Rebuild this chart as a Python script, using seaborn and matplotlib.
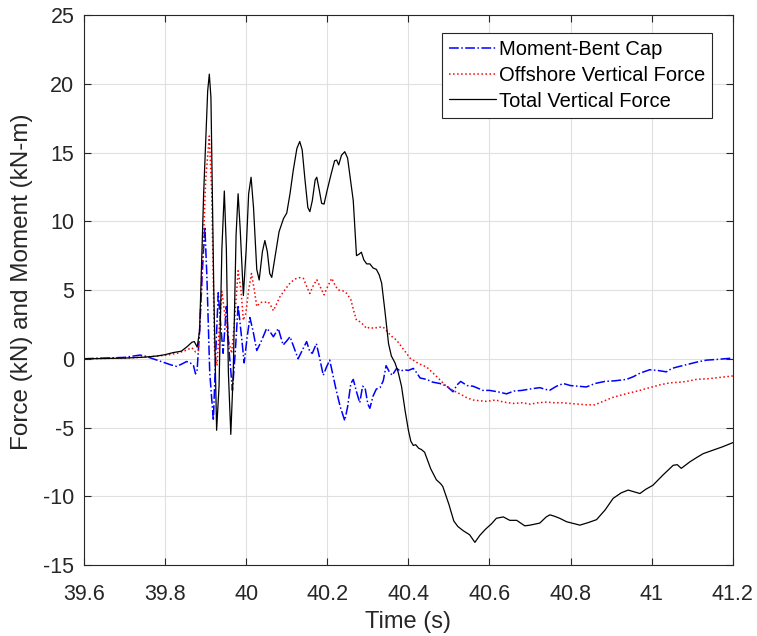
import numpy as np
import pandas as pd
import matplotlib
matplotlib.use("Agg")
import matplotlib.pyplot as plt
import seaborn as sns

# ---- data ----
t_total = [39.60, 39.65, 39.70, 39.75, 39.78, 39.80, 39.82, 39.84, 39.855, 39.866, 39.872, 39.879,
           39.885, 39.895, 39.905, 39.909, 39.913, 39.920, 39.927, 39.933, 39.940, 39.946, 39.951,
           39.956, 39.962, 39.968, 39.975, 39.980, 39.985, 39.993, 40.000, 40.006, 40.012, 40.018,
           40.026, 40.032, 40.040, 40.046, 40.052, 40.058, 40.063, 40.070, 40.081, 40.092, 40.100,
           40.108, 40.116, 40.125, 40.132, 40.138, 40.145, 40.152, 40.157, 40.163, 40.170, 40.174,
           40.180, 40.186, 40.192, 40.200, 40.210, 40.218, 40.223, 40.228, 40.235, 40.243, 40.250,
           40.258, 40.264, 40.268, 40.272, 40.278, 40.284, 40.290, 40.297, 40.305, 40.313, 40.321,
           40.328, 40.334, 40.342, 40.351, 40.358, 40.367, 40.375, 40.383, 40.392, 40.400, 40.406,
           40.412, 40.418, 40.425, 40.432, 40.440, 40.455, 40.469, 40.480, 40.485, 40.500, 40.512,
           40.522, 40.535, 40.551, 40.564, 40.570, 40.576, 40.590, 40.605, 40.617, 40.634, 40.650,
           40.667, 40.687, 40.700, 40.724, 40.740, 40.749, 40.760, 40.773, 40.790, 40.810, 40.823,
           40.845, 40.864, 40.885, 40.905, 40.925, 40.942, 40.960, 40.971, 40.985, 41.003, 41.028,
           41.053, 41.063, 41.073, 41.094, 41.110, 41.127, 41.151, 41.175, 41.200]
f_total = [0.0, 0.02, 0.05, 0.12, 0.2, 0.3, 0.45, 0.55, 0.9, 1.2, 1.25, 0.85,
           2.0, 12.0, 19.5, 20.7, 19.0, 5.0, -5.2, -2.0, 8.0, 12.2, 8.0,
           -1.0, -5.5, -1.0, 9.0, 12.0, 9.5, 4.6, 8.0, 12.0, 13.2, 11.0,
           6.5, 5.73, 7.8, 8.6, 7.8, 6.2, 5.92, 7.2, 9.24, 10.2, 10.6,
           12.0, 13.7, 15.3, 15.8, 15.2, 13.0, 11.0, 10.7, 11.5, 13.0, 13.2,
           12.3, 11.3, 11.25, 12.3, 13.5, 14.4, 14.45, 14.1, 14.8, 15.06, 14.6,
           12.8, 11.5, 9.5, 7.5, 7.6, 7.75, 7.2, 6.9, 6.9, 6.6, 6.5,
           6.1, 5.5, 3.5, 1.1, 0.2, -0.3, -1.0, -2.0, -3.8, -5.2, -6.0,
           -6.3, -6.25, -6.5, -6.6, -6.8, -8.0, -8.8, -9.1, -9.3, -10.6, -11.8,
           -12.2, -12.5, -12.8, -13.35, -13.1, -12.85, -12.4, -12.0, -11.6, -11.5, -11.75,
           -11.75, -12.15, -12.1, -11.95, -11.5, -11.35, -11.45, -11.6, -11.85, -12.0, -12.1,
           -11.9, -11.7, -11.0, -10.15, -9.75, -9.55, -9.7, -9.8, -9.5, -9.2, -8.45,
           -7.75, -7.7, -7.97, -7.5, -7.2, -6.9, -6.65, -6.4, -6.1]

t_offshore = [39.60, 39.70, 39.75, 39.80, 39.83, 39.85, 39.866, 39.875, 39.882, 39.890, 39.900,
              39.909, 39.915, 39.922, 39.928, 39.934, 39.940, 39.946, 39.955, 39.964, 39.972,
              39.980, 39.987, 39.993, 39.999, 40.006, 40.013, 40.020, 40.026, 40.035, 40.045,
              40.054, 40.060, 40.067, 40.075, 40.083, 40.095, 40.108, 40.120, 40.132, 40.141,
              40.150, 40.157, 40.165, 40.174, 40.183, 40.192, 40.200, 40.211, 40.220, 40.227,
              40.238, 40.248, 40.258, 40.265, 40.272, 40.280, 40.288, 40.297, 40.305, 40.315,
              40.325, 40.338, 40.350, 40.360, 40.371, 40.385, 40.404, 40.425, 40.445, 40.470,
              40.490, 40.510, 40.530, 40.545, 40.560, 40.575, 40.593, 40.615, 40.635, 40.659,
              40.680, 40.700, 40.720, 40.741, 40.760, 40.780, 40.798, 40.820, 40.840, 40.860,
              40.880, 40.905, 40.930, 40.950, 40.971, 40.995, 41.020, 41.045, 41.070, 41.086,
              41.110, 41.140, 41.170, 41.200]
f_offshore = [0.0, 0.05, 0.12, 0.25, 0.4, 0.6, 0.8, 0.5, 0.6, 5.0, 13.0,
              16.2, 12.0, 0.5, -0.5, 2.5, 4.9, 3.5, 1.5, 0.4, 3.0,
              6.4, 5.0, 2.8, 3.3, 5.0, 6.2, 5.0, 3.8, 4.1, 4.1,
              4.15, 3.9, 3.5, 4.0, 4.5, 5.0, 5.5, 5.8, 5.9, 5.85,
              5.2, 4.75, 5.3, 5.75, 5.2, 4.65, 5.2, 5.85, 5.3, 5.0,
              4.95, 4.75, 4.3, 3.5, 2.8, 2.7, 2.5, 2.2, 2.3, 2.2,
              2.3, 2.3, 1.9, 1.6, 1.35, 0.8, 0.05, -0.35, -0.6, -1.3,
              -1.9, -2.3, -2.6, -2.85, -3.0, -3.05, -3.1, -3.0, -3.15, -3.25,
              -3.2, -3.3, -3.2, -3.15, -3.2, -3.2, -3.25, -3.3, -3.35, -3.35,
              -3.1, -2.8, -2.6, -2.45, -2.3, -2.1, -1.9, -1.75, -1.7, -1.65,
              -1.5, -1.45, -1.35, -1.25]

t_moment = [39.60, 39.65, 39.70, 39.738, 39.75, 39.78, 39.80, 39.815, 39.828, 39.840, 39.853,
            39.862, 39.870, 39.875, 39.879, 39.885, 39.892, 39.898, 39.903, 39.910, 39.919,
            39.925, 39.931, 39.937, 39.943, 39.951, 39.958, 39.966, 39.973, 39.980, 39.987,
            39.995, 40.002, 40.009, 40.017, 40.026, 40.036, 40.046, 40.050, 40.058, 40.067,
            40.079, 40.091, 40.100, 40.108, 40.118, 40.128, 40.138, 40.149, 40.157, 40.163,
            40.173, 40.180, 40.190, 40.198, 40.206, 40.214, 40.222, 40.232, 40.243, 40.250,
            40.258, 40.264, 40.272, 40.280, 40.287, 40.293, 40.300, 40.305, 40.313, 40.321,
            40.330, 40.338, 40.345, 40.352, 40.360, 40.371, 40.380, 40.390, 40.400, 40.412,
            40.420, 40.429, 40.445, 40.460, 40.478, 40.495, 40.510, 40.520, 40.529, 40.545,
            40.560, 40.584, 40.600, 40.620, 40.642, 40.660, 40.680, 40.700, 40.724, 40.735,
            40.748, 40.765, 40.782, 40.800, 40.820, 40.839, 40.860, 40.884, 40.910, 40.938,
            40.955, 40.971, 40.995, 41.015, 41.036, 41.050, 41.069, 41.090, 41.110, 41.135,
            41.160, 41.200]
m_moment = [0.0, 0.05, 0.1, 0.27, 0.2, -0.1, -0.3, -0.45, -0.55, -0.4, -0.2,
            -0.3, -0.5, -1.1, -0.8, 2.0, 6.5, 9.6, 6.0, -1.0, -4.5,
            0.5, 4.8, 2.5, 0.4, 3.8, 0.5, -2.3, 0.5, 3.9, 2.0,
            -0.3, 1.5, 3.0, 2.0, 0.6, 1.2, 1.9, 2.2, 2.0, 1.6,
            2.2, 1.0, 1.3, 1.6, 0.8, 0.0, 0.6, 1.25, 0.5, 0.4,
            1.1, 0.2, -1.2, -0.6, -0.1, -1.2, -2.3, -3.5, -4.5, -3.5,
            -1.8, -1.5, -2.4, -3.2, -2.0, -2.1, -3.3, -3.6, -2.7, -2.2,
            -2.1, -1.6, -0.5, -0.9, -1.2, -0.7, -0.9, -0.8, -0.85, -0.7,
            -1.0, -1.4, -1.5, -1.7, -1.8, -2.0, -2.4, -1.9, -1.65, -1.95,
            -2.0, -2.3, -2.3, -2.4, -2.55, -2.35, -2.3, -2.2, -2.1, -2.2,
            -2.3, -2.0, -1.8, -1.95, -2.0, -2.05, -1.8, -1.65, -1.6, -1.5,
            -1.3, -1.05, -0.8, -0.85, -0.95, -0.7, -0.55, -0.4, -0.25, -0.1,
            -0.05, 0.05]

x_ticks = [39.6, 39.8, 40.0, 40.2, 40.4, 40.6, 40.8, 41.0, 41.2]
x_ticklabels = ["39.6", "39.8", "40", "40.2", "40.4", "40.6", "40.8", "41", "41.2"]
y_ticks = [-15, -10, -5, 0, 5, 10, 15, 20, 25]

# ---- style ----
sns.set_style("ticks")
plt.rcParams["font.family"] = ["Liberation Sans", "DejaVu Sans"]
plt.rcParams["axes.unicode_minus"] = False
txt = "#262626"

fig = plt.figure(figsize=(7.57, 6.36), dpi=100)
ax = fig.add_axes([0.111, 0.1116, 0.857, 0.8648])

sns.lineplot(x=t_moment, y=m_moment, ax=ax, color="#0000ff", linestyle="-.", linewidth=1.1,
             label="Moment-Bent Cap", sort=False, estimator=None)
sns.lineplot(x=t_offshore, y=f_offshore, ax=ax, color="#ff0000", linestyle=":", linewidth=1.1,
             label="Offshore Vertical Force", sort=False, estimator=None)
sns.lineplot(x=t_total, y=f_total, ax=ax, color="black", linestyle="-", linewidth=0.9,
             label="Total Vertical Force", sort=False, estimator=None)

ax.set_xlim(39.6, 41.2)
ax.set_ylim(-15, 25)
ax.set_xticks(x_ticks)
ax.set_xticklabels(x_ticklabels)
ax.set_yticks(y_ticks)
ax.grid(True, color="#e0e0e0", linewidth=0.8)
ax.set_axisbelow(True)
for s in ax.spines.values():
    s.set_visible(True)
    s.set_color(txt)
    s.set_linewidth(0.8)
ax.tick_params(direction="in", length=5, width=0.8, colors=txt, labelsize=15.5,
               top=True, right=True, labeltop=False, labelright=False)
ax.tick_params(axis="x", pad=14)
ax.tick_params(axis="y", pad=7)
ax.set_xlabel("Time (s)", fontsize=17, color=txt, labelpad=4)
ax.set_ylabel("Force (kN) and Moment (kN-m)", fontsize=17.5, color=txt)
ax.yaxis.set_label_coords(-0.078, 0.515)

leg = ax.legend(loc="upper right", bbox_to_anchor=(0.968, 0.967), fontsize=14.5,
                frameon=True, fancybox=False, edgecolor=txt, framealpha=1,
                handlelength=2.3, handletextpad=0.15, borderpad=0.35, labelspacing=0.33,
                borderaxespad=0)
leg.get_frame().set_linewidth(0.8)
for t in leg.get_texts():
    t.set_color("black")

fig.savefig("out.png", dpi=100)
